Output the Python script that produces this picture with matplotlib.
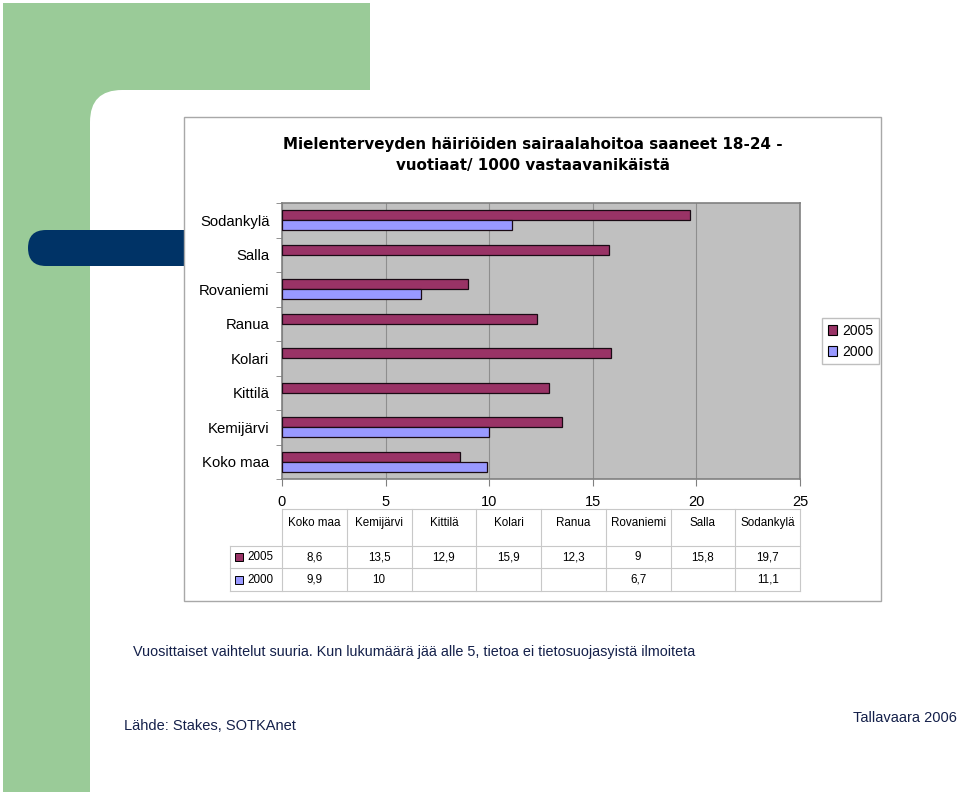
import matplotlib.pyplot as plt
from matplotlib.patches import Rectangle, FancyBboxPatch, Patch
from matplotlib.lines import Line2D
from matplotlib.transforms import IdentityTransform
import numpy as np

plt.rcParams['font.family'] = ['Liberation Sans', 'DejaVu Sans']

# data (order from bottom to top of the chart)
categories = ['Koko maa', 'Kemijärvi', 'Kittilä', 'Kolari', 'Ranua', 'Rovaniemi', 'Salla', 'Sodankylä']
values_2005 = [8.6, 13.5, 12.9, 15.9, 12.3, 9, 15.8, 19.7]
values_2000 = [9.9, 10, np.nan, np.nan, np.nan, 6.7, np.nan, 11.1]
series_names = ['2005', '2000']
x_ticks = [0, 5, 10, 15, 20, 25]

title = 'Mielenterveyden häiriöiden sairaalahoitoa saaneet 18-24 -\nvuotiaat/ 1000 vastaavanikäistä'
note = 'Vuosittaiset vaihtelut suuria. Kun lukumäärä jää alle 5, tietoa ei tietosuojasyistä ilmoiteta'
source = 'Lähde: Stakes, SOTKAnet'
author = 'Tallavaara 2006'

c2005 = '#993366'
c2000 = '#9999FF'
green = '#9ACB98'
navy = '#003366'
txt = '#14204A'

W, H = 960, 792
fig = plt.figure(figsize=(W / 100, H / 100), dpi=100)
px = IdentityTransform()  # display pixels, origin bottom-left


def fx(x):
    return x / W


def fy(y):
    return 1 - y / H


# slide background (pixel coordinates, y measured from top)
fig.patches.append(Rectangle((3, H - 150), 367, 147, transform=px,
                             facecolor=green, edgecolor='none', zorder=0))
fig.patches.append(Rectangle((3, 0), 147, H - 3, transform=px,
                             facecolor=green, edgecolor='none', zorder=0))
fig.patches.append(FancyBboxPatch((90, -100), 1000, H - 90 + 100, transform=px,
                                  boxstyle='round,pad=0,rounding_size=32',
                                  facecolor='white', edgecolor='none', zorder=0.5))
fig.patches.append(FancyBboxPatch((28, H - 266), 200, 36, transform=px,
                                  boxstyle='round,pad=0,rounding_size=18',
                                  facecolor=navy, edgecolor='none', zorder=1))
# chart box
fig.patches.append(Rectangle((184, H - 601), 697, 484, transform=px,
                             facecolor='white', edgecolor='#A8A8A8', lw=1, zorder=2))

fig.text(fx(533), fy(155), title, ha='center', va='center', fontsize=10.9, fontweight='bold',
         family='DejaVu Sans', linespacing=1.55, zorder=3)

# plot area
left, right, top, bottom = 282, 800, 203, 479
ax = fig.add_axes([fx(left), fy(bottom), fx(right - left), (bottom - top) / H])
ax.set_zorder(3)
ax.set_facecolor('#C0C0C0')
y = np.arange(len(categories))
h = 0.29
ax.barh(y + h / 2, values_2005, height=h, color=c2005, edgecolor='#1A0A14', lw=0.9, zorder=3)
ax.barh(y - h / 2, values_2000, height=h, color=c2000, edgecolor='#1A0A14', lw=0.9, zorder=3)
ax.set_xlim(0, 25)
ax.set_ylim(-0.5, len(categories) - 0.5)
ax.set_xticks(x_ticks)
ax.set_xticklabels([str(t) for t in x_ticks], fontsize=10.5)
ax.set_yticks(y)
ax.set_yticklabels(categories, fontsize=10.7)
ax.set_yticks(np.arange(-0.5, len(categories)), minor=True)
ax.tick_params(axis='y', which='major', length=0, pad=9)
ax.tick_params(axis='y', which='minor', length=4, color='#808080', direction='out')
ax.tick_params(axis='x', length=5, color='#808080', direction='out', pad=6.5)
ax.grid(axis='x', color='#8E8E8E', lw=0.8, zorder=1)
ax.set_axisbelow(True)
for s in ax.spines.values():
    s.set_color('#808080')
    s.set_linewidth(1.2)

# legend
handles = [Patch(facecolor=c2005, edgecolor='black', lw=0.8),
           Patch(facecolor=c2000, edgecolor='black', lw=0.8)]
leg = fig.legend(handles, series_names, loc='upper left', bbox_to_anchor=(fx(822), fy(318)),
                 fontsize=10, frameon=True, fancybox=False, edgecolor='#B0B0B0',
                 handlelength=0.7, handleheight=0.7, handletextpad=0.35, labelspacing=0.5,
                 borderpad=0.4, borderaxespad=0)
leg.set_zorder(4)

# data table under the axis
ncol = len(categories)
colw = (right - left) / ncol
grid_kw = dict(color='#C8C8C8', lw=0.8, transform=fig.transFigure, zorder=4)
row_lines = [509, 546, 568, 591]
for yy in row_lines:
    x0 = left if yy == 509 else 230
    fig.add_artist(Line2D([fx(x0), fx(right)], [fy(yy), fy(yy)], **grid_kw))
for i in range(ncol + 1):
    xx = left + i * colw
    fig.add_artist(Line2D([fx(xx), fx(xx)], [fy(509), fy(591)], **grid_kw))
fig.add_artist(Line2D([fx(230), fx(230)], [fy(546), fy(591)], **grid_kw))

for i, cat in enumerate(categories):
    cx = left + (i + 0.5) * colw
    fig.text(fx(cx), fy(523), cat, ha='center', va='center', fontsize=8.4, zorder=5)


def fmt(v):
    return f'{v:g}'.replace('.', ',')


for row_y, vals, name, col in [(557, values_2005, '2005', c2005), (580, values_2000, '2000', c2000)]:
    fig.patches.append(Rectangle((235, H - row_y - 4), 8, 8, transform=px,
                                 facecolor=col, edgecolor='black', lw=0.7, zorder=5))
    fig.text(fx(247), fy(row_y), name, ha='left', va='center', fontsize=8.4, zorder=5)
    for i, v in enumerate(vals):
        if np.isnan(v):
            continue
        cx = left + (i + 0.5) * colw
        fig.text(fx(cx), fy(row_y), fmt(v), ha='center', va='center', fontsize=8.4, zorder=5)

# notes
fig.text(fx(133), fy(652), note, ha='left', va='center', fontsize=10.35, color=txt)
fig.text(fx(124), fy(726), source, ha='left', va='center', fontsize=10.5, color=txt)
fig.text(fx(957), fy(718), author, ha='right', va='center', fontsize=10.5, color=txt)

fig.savefig('out.png', dpi=100)
